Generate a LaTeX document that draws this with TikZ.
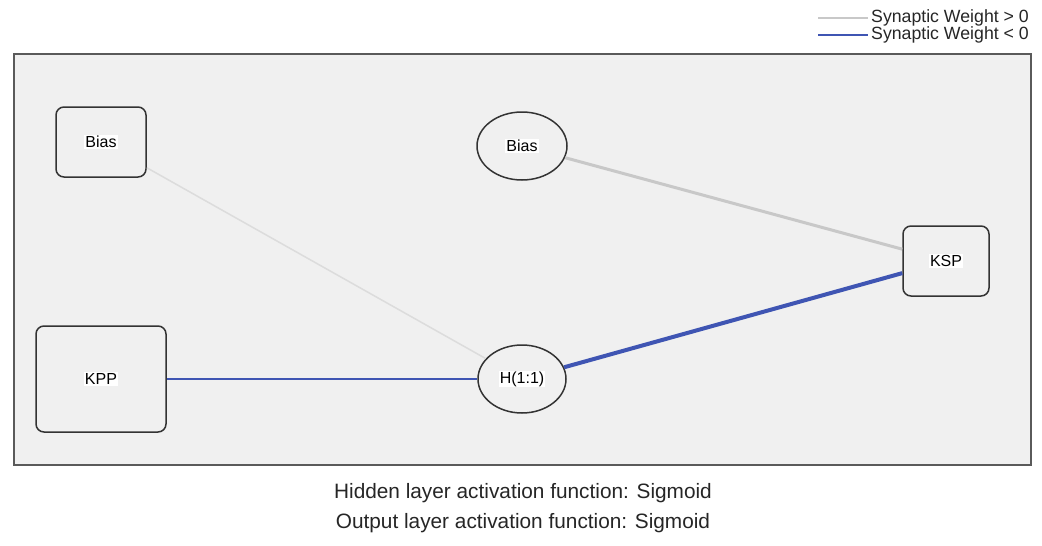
\documentclass[tikz,border=0pt]{standalone}
\usepackage{fontspec}
\setmainfont{Liberation Sans}
\usetikzlibrary{shapes.geometric}
\definecolor{panelfill}{HTML}{F0F0F0}
\definecolor{panelline}{HTML}{5A5A5A}
\definecolor{nodeline}{HTML}{333333}
\definecolor{posw}{HTML}{C8C8C8}
\definecolor{poswlight}{HTML}{DCDCDC}
\definecolor{negw}{HTML}{3F55B3}
\newcommand{\lbl}[1]{{\setlength{\fboxsep}{1pt}\colorbox{white}{#1}}}
\tikzset{
  unitbox/.style={draw=nodeline, line width=1.5pt, fill=panelfill, rounded corners=8pt, font=\fontsize{16}{18}\selectfont, inner sep=0pt},
  unitell/.style={draw=nodeline, line width=1.5pt, fill=panelfill, ellipse, font=\fontsize{16}{18}\selectfont, inner sep=0pt},
  posline/.style={draw=posw},
  negline/.style={draw=negw},
  legtext/.style={anchor=west, font=\fontsize{17.7}{20}\selectfont, inner sep=0pt, text=black!85},
  captext/.style={font=\fontsize{20.8}{24}\selectfont, inner sep=0pt, text=black!85}
}
\begin{document}
\begin{tikzpicture}[x=1pt,y=-1pt]
\useasboundingbox[fill=white] (0,0) rectangle (1042,546);
% panel
\draw[panelline, line width=2pt, fill=panelfill] (14,54) rectangle (1031,465);
% legend
\coordinate (lg1a) at (818,18);
\coordinate (lg1b) at (868,18);
\coordinate (lg2a) at (818,35);
\coordinate (lg2b) at (868,35);
\draw[posline, line width=1.5pt] (lg1a) -- (lg1b);
\draw[negline, line width=2pt] (lg2a) -- (lg2b);
\node[legtext] (leg1) at (871,18) {Synaptic Weight > 0};
\node[legtext] (leg2) at (871,35) {Synaptic Weight < 0};
% nodes
\node[unitbox, minimum width=90pt, minimum height=70pt] (bias1) at (101,142) {\lbl{Bias}};
\node[unitbox, minimum width=130pt, minimum height=106pt] (kpp) at (101,379) {\lbl{KPP}};
\node[unitell, minimum width=90pt, minimum height=68pt] (bias2) at (522,146) {\lbl{Bias}};
\node[unitell, minimum width=88pt, minimum height=68pt] (h11) at (522,379) {\lbl{H(1:1)}};
\node[unitbox, minimum width=86pt, minimum height=70pt] (ksp) at (946,261) {\lbl{KSP}};
% connectors
\draw[draw=poswlight, line width=1.5pt] (bias1) -- (h11);
\draw[posline, line width=3pt] (bias2) -- (ksp);
\draw[negline, line width=2.4pt] (kpp) -- (h11);
\draw[negline, line width=4pt] (h11) -- (ksp);
% captions
\node[captext] (cap1) at (523,493) {Hidden layer activation function: Sigmoid};
\node[captext] (cap2) at (523,523) {Output layer activation function: Sigmoid};
\end{tikzpicture}
\end{document}
